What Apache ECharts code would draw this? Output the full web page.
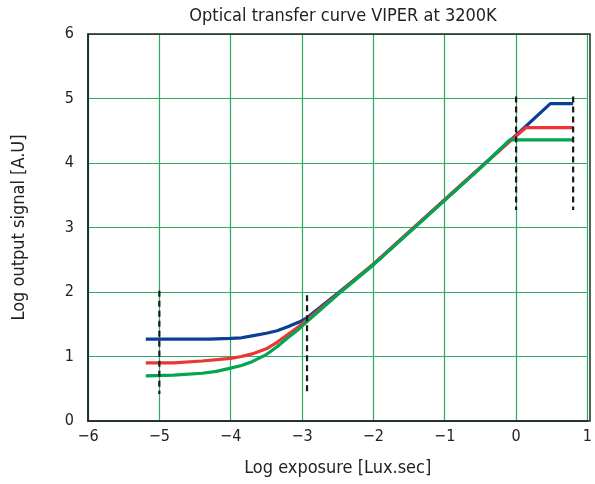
<!DOCTYPE html>
<html>
<head>
<meta charset="utf-8">
<script src="https://cdn.jsdelivr.net/npm/echarts@6/dist/echarts.min.js"></script>
<style>
  html, body { margin: 0; padding: 0; background: #fff; }
  #chart { width: 595px; height: 484px; }
</style>
</head>
<body>
<div id="chart"></div>
<script>
// curve readings [log exposure, log output]
const blueCurve = [[-5.19, 1.27], [-4.6, 1.27], [-4.3, 1.27], [-4.0, 1.28], [-3.85, 1.29], [-3.7, 1.32],
  [-3.5, 1.36], [-3.35, 1.4], [-3.2, 1.46], [-3.05, 1.53], [-2.93, 1.6], [-2.5, 1.98], [-2, 2.43],
  [-1.5, 2.93], [-1, 3.43], [-0.5, 3.93], [0, 4.43], [0.48, 4.92], [0.8, 4.92]]
const redCurve = [[-5.19, 0.9], [-4.8, 0.9], [-4.4, 0.93], [-4.0, 0.97], [-3.85, 1.0], [-3.7, 1.04],
  [-3.5, 1.12], [-3.35, 1.22], [-3.2, 1.34], [-3.05, 1.46], [-2.93, 1.57], [-2.5, 1.97], [-2, 2.43],
  [-1.5, 2.93], [-1, 3.43], [-0.5, 3.93], [0, 4.42], [0.14, 4.55], [0.8, 4.55]]
const greenCurve = [[-5.19, 0.7], [-4.8, 0.71], [-4.4, 0.74], [-4.2, 0.77], [-4.0, 0.82], [-3.85, 0.86],
  [-3.7, 0.92], [-3.5, 1.03], [-3.35, 1.15], [-3.2, 1.29], [-3.05, 1.42], [-2.93, 1.54], [-2.5, 1.96],
  [-2, 2.42], [-1.5, 2.92], [-1, 3.42], [-0.5, 3.92], [-0.09, 4.36], [0.8, 4.36]]
// dashed markers
const markerLines = [
  [[-5, 2.02], [-5, 0.42]],
  [[-2.93, 1.95], [-2.93, 0.4]],
  [[0, 5.03], [0, 3.27]],
  [[0.8, 5.03], [0.8, 3.27]]
]

const font = '"Liberation Sans Narrow", "DejaVu Sans Condensed", "Liberation Sans", Arial, sans-serif'
const chart = echarts.init(document.getElementById('chart'))

const curve = (data, color) => ({
  type: 'line',
  data: data,
  symbol: 'none',
  lineStyle: { color: color, width: 3.2, join: 'round' },
  z: 3
})

chart.setOption({
  animation: false,
  title: {
    text: 'Optical transfer curve VIPER at 3200K',
    left: 338,
    textAlign: 'center',
    top: 2,
    textStyle: { fontFamily: font, fontSize: 18, fontWeight: 'normal', color: '#222' }
  },
  grid: { left: 88, right: 5, top: 34, bottom: 63 },
  xAxis: {
    type: 'value',
    min: -6,
    max: 1,
    interval: 1,
    name: 'Log exposure [Lux.sec]',
    nameLocation: 'middle',
    nameGap: 38,
    nameTextStyle: { fontFamily: font, fontSize: 18, color: '#222' },
    axisLine: { show: true, onZero: false, lineStyle: { color: '#1c2b20', width: 1.5 } },
    axisTick: { show: false },
    axisLabel: {
      fontFamily: font, fontSize: 16, color: '#222', margin: 8,
      formatter: v => String(v).replace('-', '\u2212')
    },
    splitLine: { show: true, lineStyle: { color: '#2ea862', width: 1.2 } }
  },
  yAxis: {
    type: 'value',
    min: 0,
    max: 6,
    interval: 1,
    name: 'Log output signal [A.U]',
    nameLocation: 'middle',
    nameGap: 60,
    nameTextStyle: { fontFamily: font, fontSize: 18, color: '#222' },
    axisLine: { show: true, onZero: false, lineStyle: { color: '#1c2b20', width: 1.5 } },
    axisTick: { show: false },
    axisLabel: { fontFamily: font, fontSize: 16, color: '#222', margin: 14 },
    splitLine: { show: true, lineStyle: { color: '#2ea862', width: 1.2 } }
  },
  graphic: [{
    type: 'rect',
    shape: { x: 88, y: 34, width: 502, height: 387 },
    style: { fill: 'none', stroke: '#1c2b20', lineWidth: 1.5 },
    z: 10
  }],
  series: [
    curve(blueCurve, '#0a3f96'),
    curve(redCurve, '#ee3535'),
    curve(greenCurve, '#00a650')
  ].concat(markerLines.map(seg => ({
    type: 'line',
    data: seg,
    symbol: 'none',
    lineStyle: { color: '#1a1a1a', width: 2.2, type: [6, 4] },
    z: 4
  })))
})
</script>
</body>
</html>
